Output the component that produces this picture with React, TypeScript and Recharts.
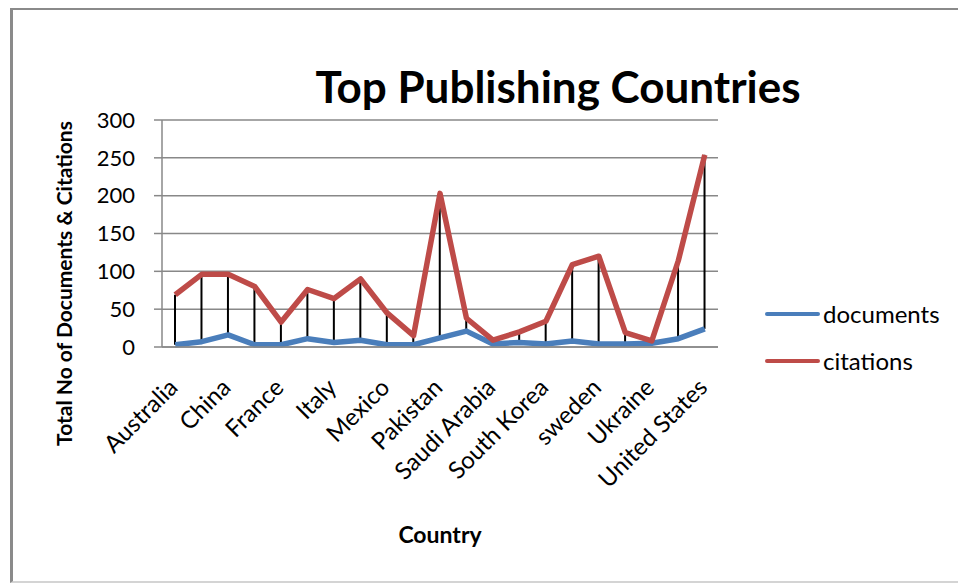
import { ComposedChart, Line, Bar, XAxis, YAxis, CartesianGrid, Legend, Label } from "recharts";

const countries = [
  "Australia", "Canada", "China", "Egypt", "France", "Germany", "Italy", "Japan", "Mexico", "Nigeria",
  "Pakistan", "Portugal", "Saudi Arabia", "Spain", "South Korea", "Switzerland", "sweden", "Turkey",
  "Ukraine", "United Kingdom", "United States",
];
const documents = [3, 7, 16, 3, 3, 11, 6, 9, 3, 3, 12, 21, 4, 6, 4, 8, 4, 4, 5, 11, 24];
const citations = [69, 96, 96, 80, 33, 76, 64, 90, 45, 15, 203, 38, 9, 20, 34, 109, 120, 19, 8, 114, 254];
const yTicks = [0, 50, 100, 150, 200, 250, 300];

const BLUE = "#4A7EBB";
const RED = "#BE4B48";
const GRID = "#888888";
const FONT = "Lato, 'Noto Sans', sans-serif";

const data = countries.map((country, i) => ({
  country,
  documents: documents[i],
  citations: citations[i],
  range: [documents[i], citations[i]],
}));

function CountryTick({ x, y, payload }: any) {
  const ax = x + 4;
  const ay = y + 42;
  return (
    <text x={ax} y={ay} transform={`rotate(-45, ${ax}, ${ay})`} textAnchor="end" fontSize={24} fill="#000" fontFamily={FONT}>
      {payload.value}
    </text>
  );
}

function YTitle({ viewBox }: any) {
  const x = viewBox.x - 30;
  const y = viewBox.y + viewBox.height / 2 + 50;
  return (
    <text x={x} y={y} transform={`rotate(-90, ${x}, ${y})`} textAnchor="middle" fontSize={21} fontWeight="bold" fill="#000" fontFamily={FONT}>
      Total No of Documents &amp; Citations
    </text>
  );
}

function LegendBox() {
  const items = [
    { name: "documents", color: BLUE },
    { name: "citations", color: RED },
  ];
  return (
    <div style={{ fontFamily: FONT, fontSize: 24 }}>
      {items.map((it) => (
        <div key={it.name} style={{ display: "flex", alignItems: "center", height: 47 }}>
          <span style={{ display: "inline-block", width: 55, height: 4, background: it.color, borderRadius: 2, marginRight: 3 }} />
          <span>{it.name}</span>
        </div>
      ))}
    </div>
  );
}

export default function App() {
  return (
    <div style={{ position: "fixed", left: 0, top: 0, width: 958, height: 583, overflow: "hidden", background: "#fff" }}>
      <div
        style={{
          position: "absolute",
          left: 10,
          top: 8,
          width: 970,
          height: 571,
          borderLeft: "3px solid #8a8a8a",
          borderTop: "2px solid #8a8a8a",
          borderBottom: "2px solid #d4d4d4",
        }}
      />
      <svg width={958} height={583} style={{ position: "absolute", left: 0, top: 0 }}>
        <text x={558} y={103} textAnchor="middle" fontSize={44} fontWeight="bold" fontFamily={FONT} fill="#000">
          Top Publishing Countries
        </text>
      </svg>
      <div style={{ position: "absolute", left: 0, top: 0 }}>
        <ComposedChart width={958} height={583} data={data} margin={{ top: 120, right: 240, bottom: 0, left: 102 }}>
          <CartesianGrid vertical={false} stroke={GRID} strokeWidth={1.5} />
          <XAxis
            dataKey="country"
            interval={1}
            tickLine={false}
            tickSize={0}
            tickMargin={0}
            height={236}
            axisLine={{ stroke: GRID, strokeWidth: 1.5 }}
            tick={<CountryTick />}
          >
            <Label value="Country" position="insideBottom" offset={40} fontSize={23} fontWeight="bold" fill="#000" fontFamily={FONT} />
          </XAxis>
          <YAxis
            width={60}
            domain={[0, 300]}
            ticks={yTicks}
            tickSize={8}
            tickMargin={19}
            tickLine={{ stroke: GRID, strokeWidth: 1.5 }}
            axisLine={{ stroke: GRID, strokeWidth: 1.5 }}
            tick={{ fontSize: 22, fill: "#000", fontFamily: FONT }}
            label={<YTitle />}
          />
          <Bar dataKey="range" barSize={2} fill="#000" isAnimationActive={false} legendType="none" />
          <Line dataKey="documents" stroke={BLUE} strokeWidth={5.5} dot={false} strokeLinejoin="round" isAnimationActive={false} />
          <Line dataKey="citations" stroke={RED} strokeWidth={5.5} dot={false} strokeLinejoin="round" isAnimationActive={false} />
          <Legend
            layout="vertical"
            align="center"
            verticalAlign="middle"
            content={<LegendBox />}
            wrapperStyle={{ left: 765, top: 290, width: 190 }}
          />
        </ComposedChart>
      </div>
    </div>
  );
}
